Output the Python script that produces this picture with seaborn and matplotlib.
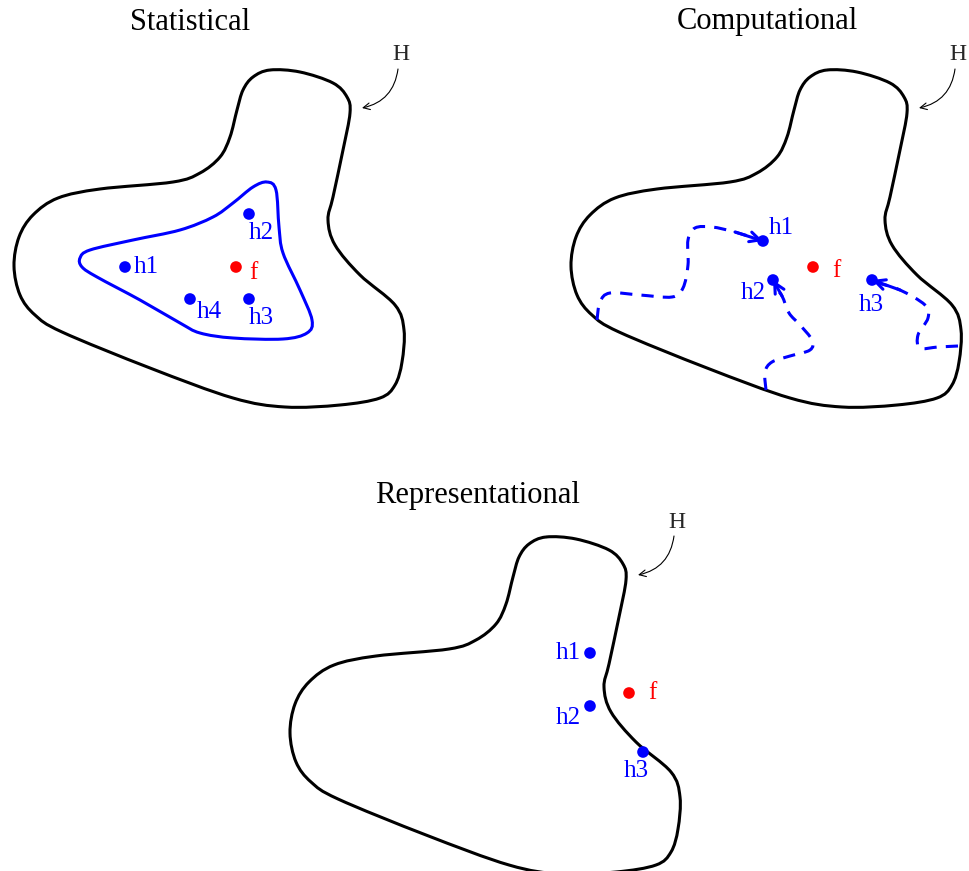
import numpy as np
import matplotlib
matplotlib.use('Agg')
import matplotlib.pyplot as plt
from matplotlib.path import Path
from matplotlib.patches import PathPatch
import seaborn as sns

sns.set_theme(style='white')
plt.rcParams['font.family'] = ['Liberation Serif', 'DejaVu Serif']

# hypothesis space outline (statistical panel coordinates, pixels)
outline_x = [270, 300, 333, 347, 350, 343, 333, 328, 335, 360, 395, 404, 402, 395, 380, 340, 285, 233, 150, 62, 35, 20, 14, 19, 33, 58, 100, 173, 200, 220, 230, 237, 243, 253]
outline_y = [70, 72, 83, 97, 113, 150, 197, 220, 245, 275, 305, 330, 362, 385, 398, 405, 407, 398, 368, 332, 315, 295, 266, 237, 215, 198, 189, 182, 173, 157, 137, 110, 90, 77]

# blue region of good hypotheses (statistical)
inner_x = [267, 276, 279, 283, 300, 312, 307, 283, 233, 200, 180, 140, 97, 82, 80, 90, 133, 180, 213, 233, 253]
inner_y = [182, 190, 227, 253, 290, 320, 333, 339, 338, 333, 323, 300, 277, 267, 258, 250, 240, 230, 217, 203, 187]

panel_titles = ['Statistical', 'Computational', 'Representational']
title_x = [190, 767, 478]
title_y = [22, 22, 495]
panel_dx = [0, 557, 276]
panel_dy = [0, 0, 467]

# statistical points
stat_labels = ['h1', 'h2', 'h3', 'h4']
stat_x = [125, 249, 249, 190]
stat_y = [267, 214, 299, 299]
stat_lx = [134, 249, 249, 197]
stat_ly = [267, 233, 318, 312]
stat_f = (236, 267)

# computational points
comp_labels = ['h1', 'h2', 'h3']
comp_x = [763, 773, 872]
comp_y = [241, 280, 280]
comp_lx = [769, 741, 859]
comp_ly = [228, 293, 305]
comp_f = (813, 267)

# search paths (computational)
path1_x = [597, 600, 610, 640, 672, 683, 688, 688, 695, 712, 735, 757]
path1_y = [320, 302, 293, 295, 297, 288, 265, 240, 228, 227, 232, 239]
path2_x = [766, 765, 772, 790, 810, 812, 800, 789, 782, 774]
path2_y = [390, 372, 362, 356, 350, 340, 325, 313, 296, 286]
path3_x = [958, 938, 920, 918, 928, 925, 900, 878]
path3_y = [346, 347, 348, 335, 318, 305, 290, 283]

# representational points
rep_labels = ['h1', 'h2', 'h3']
rep_x = [590, 590, 643]
rep_y = [653, 706, 752]
rep_lx = [581, 581, 624]
rep_ly = [653, 718, 771]
rep_f = (629, 693)

BLUE = '#0000ff'
RED = '#ff0000'


def smooth_path(xs, ys, closed=True):
    pts = np.column_stack([xs, ys]).astype(float)
    n = len(pts)
    if closed:
        get = lambda i: pts[i % n]
        segs = n
    else:
        get = lambda i: pts[min(max(i, 0), n - 1)]
        segs = n - 1
    verts = [get(0)]
    codes = [Path.MOVETO]
    for i in range(segs):
        p0, p1, p2, p3 = get(i - 1), get(i), get(i + 1), get(i + 2)
        verts += [p1 + (p2 - p0) / 6, p2 - (p3 - p1) / 6, p2]
        codes += [Path.CURVE4] * 3
    return Path(verts, codes)


fig = plt.figure(figsize=(9.69, 8.71), dpi=100)
ax = fig.add_axes([0, 0, 1, 1])
ax.set_xlim(0, 969)
ax.set_ylim(871, 0)
ax.axis('off')

for title, tx, ty, dx, dy in zip(panel_titles, title_x, title_y, panel_dx, panel_dy):
    ax.text(tx, ty, title, fontsize=22, ha='center', va='center', color='black')
    ox = [x + dx for x in outline_x]
    oy = [y + dy for y in outline_y]
    ax.add_patch(PathPatch(smooth_path(ox, oy), fill=False, lw=2.2, ec='black'))
    ax.text(401 + dx, 55 + dy, 'H', fontsize=17, ha='center', va='center')
    ax.annotate('', xy=(362 + dx, 108 + dy), xytext=(398 + dx, 69 + dy),
                arrowprops=dict(arrowstyle='->', lw=0.8, color='black',
                                connectionstyle='arc3,rad=-0.35',
                                shrinkA=0, shrinkB=0))

# statistical panel
ax.add_patch(PathPatch(smooth_path(inner_x, inner_y), fill=False, lw=2.2, ec=BLUE))
sns.scatterplot(x=stat_x, y=stat_y, color=BLUE, s=70, edgecolor='none', ax=ax, zorder=5)
sns.scatterplot(x=[stat_f[0]], y=[stat_f[1]], color=RED, s=70, edgecolor='none', ax=ax, zorder=5)
for lab, lx, ly in zip(stat_labels, stat_lx, stat_ly):
    ax.text(lx, ly, lab, fontsize=18, color=BLUE, ha='left', va='center')
ax.text(stat_f[0] + 13, stat_f[1] + 6, 'f', fontsize=18, color=RED, ha='left', va='center')

# computational panel
for px, py, tx, ty in [(path1_x, path1_y, comp_x[0], comp_y[0]),
                       (path2_x, path2_y, comp_x[1], comp_y[1]),
                       (path3_x, path3_y, comp_x[2], comp_y[2])]:
    ax.add_patch(PathPatch(smooth_path(px, py, closed=False), fill=False, lw=2.2,
                           ec=BLUE, linestyle=(0, (4, 3))))
    ax.annotate('', xy=(tx, ty), xytext=(px[-2], py[-2]),
                arrowprops=dict(arrowstyle='->,head_length=0.6,head_width=0.3', lw=2.2,
                                color=BLUE, shrinkA=0, shrinkB=0))
sns.scatterplot(x=comp_x, y=comp_y, color=BLUE, s=70, edgecolor='none', ax=ax, zorder=5)
sns.scatterplot(x=[comp_f[0]], y=[comp_f[1]], color=RED, s=70, edgecolor='none', ax=ax, zorder=5)
for lab, lx, ly in zip(comp_labels, comp_lx, comp_ly):
    ax.text(lx, ly, lab, fontsize=18, color=BLUE, ha='left', va='center')
ax.text(comp_f[0] + 19, comp_f[1] + 4, 'f', fontsize=18, color=RED, ha='left', va='center')

# representational panel
sns.scatterplot(x=rep_x, y=rep_y, color=BLUE, s=70, edgecolor='none', ax=ax, zorder=5)
sns.scatterplot(x=[rep_f[0]], y=[rep_f[1]], color=RED, s=70, edgecolor='none', ax=ax, zorder=5)
for lab, lx, ly, ha in zip(rep_labels, rep_lx, rep_ly, ['right', 'right', 'left']):
    ax.text(lx, ly, lab, fontsize=18, color=BLUE, ha=ha, va='center')
ax.text(rep_f[0] + 19, rep_f[1], 'f', fontsize=18, color=RED, ha='left', va='center')

ax.set_xlim(0, 969)
ax.set_ylim(871, 0)
fig.savefig('out.png', dpi=100)
